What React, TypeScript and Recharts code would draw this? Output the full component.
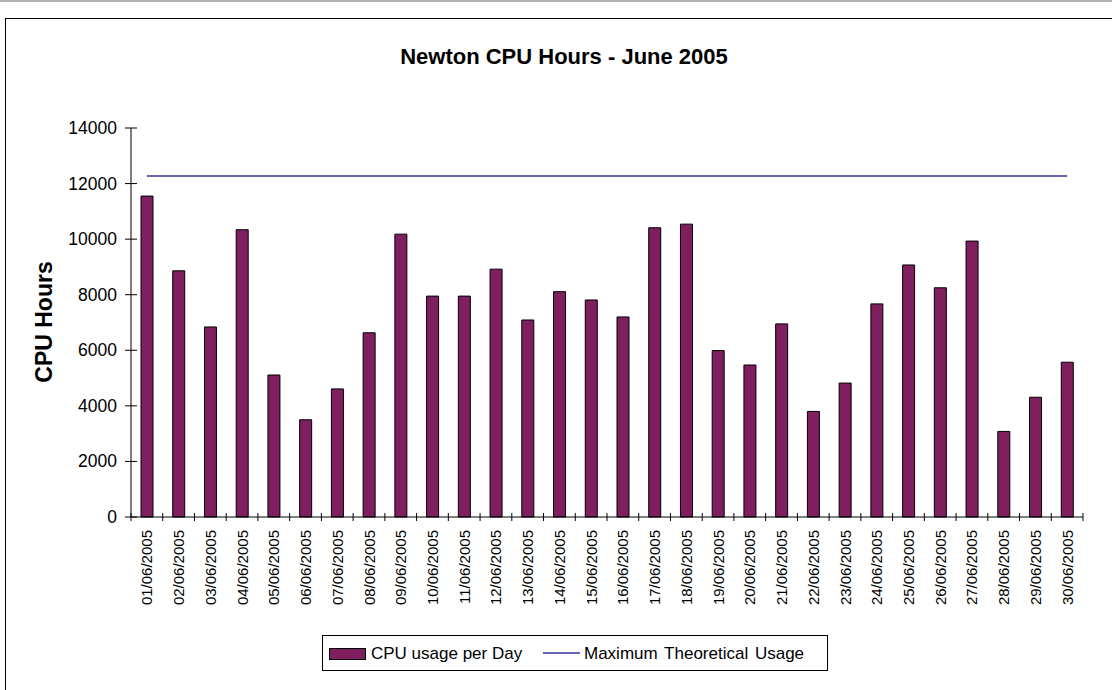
import React from 'react';
import { ComposedChart, Bar, Line, XAxis, YAxis } from 'recharts';

const days = [
  '01/06/2005', '02/06/2005', '03/06/2005', '04/06/2005', '05/06/2005',
  '06/06/2005', '07/06/2005', '08/06/2005', '09/06/2005', '10/06/2005',
  '11/06/2005', '12/06/2005', '13/06/2005', '14/06/2005', '15/06/2005',
  '16/06/2005', '17/06/2005', '18/06/2005', '19/06/2005', '20/06/2005',
  '21/06/2005', '22/06/2005', '23/06/2005', '24/06/2005', '25/06/2005',
  '26/06/2005', '27/06/2005', '28/06/2005', '29/06/2005', '30/06/2005',
];

const cpuUsage = [
  11550, 8860, 6840, 10340, 5110, 3500, 4610, 6630, 10180, 7950,
  7950, 8920, 7090, 8110, 7810, 7200, 10410, 10540, 5990, 5470,
  6950, 3800, 4820, 7670, 9070, 8250, 9930, 3080, 4310, 5570,
];

// flat line: capacity of the machine per day
const maxTheoretical = 12270;

const yTicks = [0, 2000, 4000, 6000, 8000, 10000, 12000, 14000];

const seriesNames = ['CPU usage per Day', 'Maximum Theoretical Usage'];

const chartData = days.map((day, i) => ({
  day,
  cpu: cpuUsage[i],
  max: maxTheoretical,
}));

const FONT = '"Liberation Sans", Arial, Helvetica, sans-serif';
const PLOT_LEFT = 131;
const PLOT_RIGHT = 1083;
const BAND = (PLOT_RIGHT - PLOT_LEFT) / days.length;

const XTick = (props: any) => {
  const { x, y, payload, index } = props;
  const ty = y + 13;
  return (
    <g>
      <line x1={x - BAND / 2} x2={x - BAND / 2} y1={y - 4} y2={y + 4} stroke="#000" />
      {index === days.length - 1 && (
        <line x1={x + BAND / 2} x2={x + BAND / 2} y1={y - 4} y2={y + 4} stroke="#000" />
      )}
      <text
        x={x}
        y={ty}
        transform={`rotate(-90 ${x} ${ty})`}
        textAnchor="end"
        dominantBaseline="central"
        fontSize={15}
        fontFamily={FONT}
        fill="#000"
      >
        {payload.value}
      </text>
    </g>
  );
};

const YTick = (props: any) => {
  const { x, y, payload } = props;
  return (
    <g>
      <line x1={x - 6} x2={x + 6} y1={y} y2={y} stroke="#000" />
      <text
        x={x - 14}
        y={y}
        textAnchor="end"
        dominantBaseline="central"
        fontSize={17.5}
        fontFamily={FONT}
        fill="#000"
      >
        {payload.value}
      </text>
    </g>
  );
};

const App: React.FC = () => {
  return (
    <div
      style={{
        position: 'fixed',
        left: 0,
        top: 0,
        width: 1112,
        height: 690,
        overflow: 'hidden',
        background: '#fff',
        fontFamily: FONT,
      }}
    >
      <div style={{ position: 'absolute', left: 0, top: 0 }}>
        <ComposedChart
          width={1112}
          height={690}
          data={chartData}
          margin={{ top: 128, right: 1112 - PLOT_RIGHT, bottom: 73, left: PLOT_LEFT - 60 }}
        >
          <XAxis
            dataKey="day"
            interval={0}
            height={100}
            tickSize={0}
            tickMargin={0}
            tickLine={false}
            axisLine={{ stroke: '#000' }}
            tick={<XTick />}
          />
          <YAxis
            domain={[0, 14000]}
            ticks={yTicks}
            interval={0}
            width={60}
            tickSize={0}
            tickMargin={0}
            tickLine={false}
            axisLine={{ stroke: '#000' }}
            tick={<YTick />}
          />
          <Bar
            dataKey="cpu"
            name={seriesNames[0]}
            fill="#7F1F5F"
            stroke="#000"
            strokeWidth={1}
            barSize={12}
            isAnimationActive={false}
          />
          <Line
            dataKey="max"
            name={seriesNames[1]}
            type="linear"
            stroke="#333399"
            strokeWidth={1.5}
            dot={false}
            activeDot={false}
            isAnimationActive={false}
          />
        </ComposedChart>
      </div>

      <svg
        width={1112}
        height={690}
        style={{ position: 'absolute', left: 0, top: 0, pointerEvents: 'none' }}
      >
        <line x1={0} x2={1112} y1={1} y2={1} stroke="#b0b0b0" strokeWidth={2} />
        <rect x={5.5} y={18.5} width={1200} height={800} fill="none" stroke="#000" />

        <text
          x={564}
          y={64}
          textAnchor="middle"
          fontSize={22}
          fontWeight="bold"
          fontFamily={FONT}
          fill="#000"
        >
          Newton CPU Hours - June 2005
        </text>

        <text
          x={44}
          y={322}
          transform="rotate(-90 44 322)"
          textAnchor="middle"
          dominantBaseline="central"
          fontSize={23}
          fontWeight="bold"
          fontFamily={FONT}
          fill="#000"
        >
          CPU Hours
        </text>

        {/* legend */}
        <rect x={322.5} y={635.5} width={505} height={35} fill="#fff" stroke="#000" />
        <rect x={329.5} y={648.5} width={36} height={11} fill="#7F1F5F" stroke="#000" />
        <text x={371} y={659} fontSize={17} fontFamily={FONT} fill="#000">
          {seriesNames[0]}
        </text>
        <line x1={543} x2={580} y1={653} y2={653} stroke="#333399" strokeWidth={1.5} />
        <text x={584} y={659} fontSize={17} fontFamily={FONT} fill="#000" wordSpacing={2}>
          {seriesNames[1]}
        </text>
      </svg>
    </div>
  );
};

export default App;
